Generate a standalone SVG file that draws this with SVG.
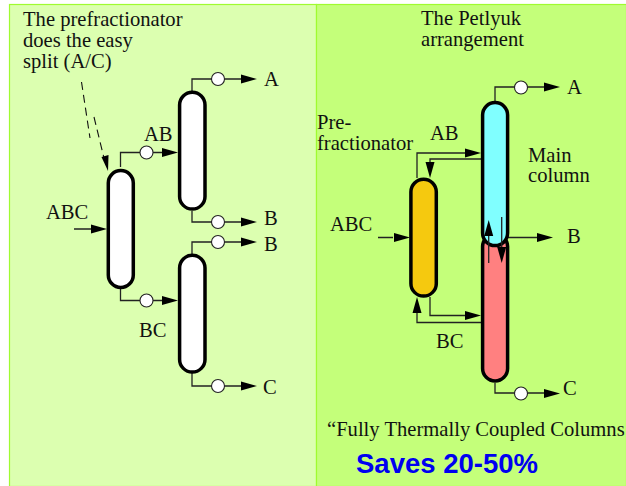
<svg xmlns="http://www.w3.org/2000/svg" width="626" height="486" viewBox="0 0 626 486">
<style>
text{font-family:"Liberation Serif","Times New Roman",serif;font-size:20.600px;fill:#111}
.col{stroke:#000;stroke-width:3.500}
.ln{fill:none;stroke:#222;stroke-width:1.300}
.dash{fill:none;stroke:#111;stroke-width:1.100;stroke-dasharray:8 5}
.pump{fill:#fff;stroke:#222;stroke-width:1.100}
.head{fill:#000;stroke:none}
</style>
<defs>
<circle id="p" class="pump" r="6.500"/>
<polygon id="ar" class="head" points="0,0 -16,-4.500 -16,4.500"/>
<polygon id="au" class="head" points="0,0 -4.500,16 4.500,16"/>
<polygon id="ad" class="head" points="0,0 -4.500,-16 4.500,-16"/>
</defs>
<rect width="626" height="486" fill="#fff"/>
<rect x="9.500" y="4.500" width="307" height="482" fill="#dcffb0" stroke="#a0fb30" stroke-width="1.200"/>
<rect x="316.500" y="4.500" width="310" height="482" fill="#c4ff7a" stroke="#a0fb30" stroke-width="1.200"/>
<g id="connectors">
<path class="ln" d="M192 91V79H212M224 79H242M192 211V222H212M224 222H242M192 254V242H212M224 242H242M192 373V386H212M224 386H242M120.500 167V152.500H140M153 152.500H165M120.500 288V300.500H140M153 300.500H165M74 229H92"/>
<path class="ln" d="M495 101V87H515M528 87H545"/>
<path class="ln" d="M495 383V393H515M528 393H545M507 237.500H538M378 237.500H393M417 178V153H467M481 159H430V165M430 297V315.500H467M481 322.500H417V310"/>
<path class="dash" d="M81.500 82L90 138"/>
<path class="dash" d="M94 117L104 158"/>
</g>
<g id="arrowheads">
<use href="#ar" x="257" y="79"/><use href="#ar" x="257" y="222"/><use href="#ar" x="257" y="242"/><use href="#ar" x="257" y="386"/>
<use href="#ar" x="178" y="152.500"/><use href="#ar" x="178" y="300.500"/><use href="#ar" x="107" y="229"/>
<polygon class="head" points="108,171 101.500,157 108.500,155"/>
</g>
<g id="col-left-1"><rect class="col" x="108.300" y="170.600" width="25" height="116.800" rx="12.500" fill="#fff"/></g>
<g id="col-left-2"><rect class="col" x="179.600" y="92.300" width="25.400" height="116.800" rx="12.700" fill="#fff"/></g>
<g id="col-left-3"><rect class="col" x="179.600" y="255.300" width="25.400" height="116.800" rx="12.700" fill="#fff"/></g>
<g id="pumps">
<use href="#p" x="218" y="79"/><use href="#p" x="218" y="222"/><use href="#p" x="218" y="242"/><use href="#p" x="218" y="386"/>
<use href="#p" x="146.500" y="152.500"/><use href="#p" x="146.500" y="300.500"/>
<use href="#p" x="521" y="87.500"/><use href="#p" x="521" y="393.500"/>
</g>
<g id="col-bottom"><rect class="col" x="482.600" y="234" width="25" height="147" rx="12.500" fill="#ff8080"/></g>
<g id="col-main"><rect class="col" x="482.600" y="102.600" width="25" height="143" rx="12.500" fill="#80ffff"/></g>
<g id="col-pre"><rect class="col" x="410.900" y="179.300" width="25.400" height="116.800" rx="12.700" fill="#f5c90f"/></g>
<g id="connectors-right">
<path class="ln" d="M488.700 236V263M501.700 217V250"/>
<use href="#ar" x="560" y="87"/>
<use href="#ar" x="560" y="393.500"/>
<use href="#ar" x="553" y="237.500"/>
<use href="#ar" x="410" y="237.500"/>
<use href="#ar" x="481" y="153"/>
<use href="#ar" x="481" y="315.500"/>
<use href="#ad" x="430" y="178"/>
<use href="#au" x="417" y="297"/>
<use href="#au" x="488.700" y="220"/>
<use href="#ad" x="501.700" y="263"/>
</g>
<g id="labels">
<text x="23" y="26">The prefractionator</text>
<text x="23" y="47">does the easy</text>
<text x="23" y="68">split (A/C)</text>
<text x="264" y="86">A</text><text x="264" y="225">B</text><text x="264" y="251">B</text><text x="263" y="394">C</text>
<text x="144" y="141">AB</text><text x="46" y="219">ABC</text><text x="139" y="337">BC</text>
<text x="421" y="25">The Petlyuk</text>
<text x="421" y="46">arrangement</text>
<text x="317" y="129">Pre-</text>
<text x="317" y="150">fractionator</text>
<text x="430" y="140">AB</text>
<text x="528" y="162">Main</text>
<text x="528" y="182">column</text>
<text x="330" y="231">ABC</text>
<text x="567" y="94">A</text><text x="567" y="243">B</text><text x="563" y="395">C</text>
<text x="436" y="348">BC</text>
<text x="327" y="436">“Fully Thermally Coupled Columns</text>
<text x="356" y="473" style="font-family:'Liberation Sans',Arial,sans-serif;font-size:27.500px;font-weight:bold;fill:#0000f0">Saves 20-50%</text>
</g>
</svg>
